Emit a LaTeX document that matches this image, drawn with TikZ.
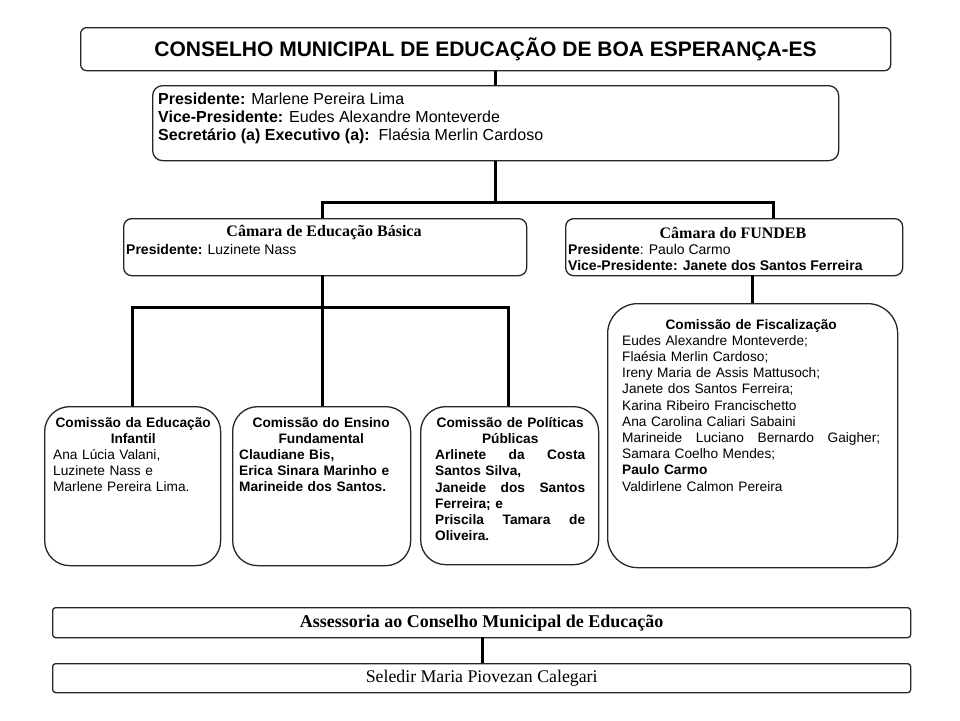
\documentclass[tikz,border=0pt]{standalone}
\usepackage{fontspec}
\setmainfont{Liberation Serif}
\setsansfont{Liberation Sans}
\newcommand\jline[1]{\par\noindent\hbox to\hsize{#1}\par}
\newcommand\pline[1]{\par\noindent #1\par}
\begin{document}
\begin{tikzpicture}[x=1pt,y=-1pt,
  box/.style={draw=black!85, line width=1.3pt, inner sep=0pt, anchor=north west, rounded corners=#1},
  box/.default=8pt,
  conn/.style={line width=3pt},
  sans/.style={font=\sffamily\fontsize{16}{18}\selectfont},
  small/.style={font=\sffamily\fontsize{13.7}{16.2}\selectfont},
  txt/.style={inner sep=0pt, anchor=north west},
  chead/.style={inner sep=0pt, font=\bfseries\fontsize{16}{18}\selectfont}]
\useasboundingbox (0,0) rectangle (960,720);
\fill[white] (0,0) rectangle (960,720);

% top
\node[box=6pt, minimum width=810pt, minimum height=43pt,
      font=\sffamily\bfseries\fontsize{21}{24}\selectfont] (title) at (80,27)
  {CONSELHO MUNICIPAL DE EDUCAÇÃO DE BOA ESPERANÇA-ES};
\node[box=10pt, minimum width=686pt, minimum height=75pt] (off) at (152,85) {};
\node[txt, sans, align=left] (offt) at (158,92.5)
  {\textbf{Presidente:} Marlene Pereira Lima\\
   \textbf{Vice-Presidente:} Eudes Alexandre Monteverde\\
   \textbf{Secretário (a) Executivo (a):}\ \ Flaésia Merlin Cardoso};
\draw[conn] (off.north) -- (off.north |- title.south);

% camaras
\node[box=8pt, minimum width=403pt, minimum height=57pt] (cb) at (123,218) {};
\node[chead] (cbh) at (324,233) {Câmara de Educação Básica};
\node[txt, font=\sffamily\fontsize{14}{16}\selectfont] (cbt) at (126,244.5) {\textbf{Presidente:} Luzinete Nass};

\node[box=8pt, minimum width=337pt, minimum height=57pt] (cf) at (565,218) {};
\node[chead] (cfh) at (733,233) {Câmara do FUNDEB};
\node[txt, font=\sffamily\fontsize{14}{16}\selectfont, align=left] (cft) at (568,244.5)
  {\textbf{Presidente}: Paulo Carmo\\ \textbf{Vice-Presidente: Janete dos Santos Ferreira}};

\coordinate (j1) at (496,202);
\coordinate (cbin) at (322,218);
\coordinate (cfin) at (773,218);
\draw[conn] (off.south) -- (off.south |- j1);
\draw[conn] (cbin) |- (j1) -| (cfin);

% commissions
\node[box=25pt, minimum width=176pt, minimum height=159pt] (ci) at (44,406) {};
\node[box=25pt, minimum width=178pt, minimum height=159pt] (cu) at (232,406) {};
\node[box=25pt, minimum width=178pt, minimum height=158pt] (cp) at (420,406) {};
\node[box=30pt, minimum width=290pt, minimum height=264pt] (cz) at (607,303) {};

\coordinate (cbout) at (322,275);
\coordinate (j2) at (322,307);
\coordinate (ciin) at (132,406);
\coordinate (cuin) at (322,406);
\coordinate (cpin) at (508,406);
\draw[conn] (cbout) -- (cuin);
\draw[conn] (ciin) |- (j2) -| (cpin);

\coordinate (cfout) at (752,275);
\draw[conn] (cfout) -- (cfout |- cz.north);

\node[txt, small, text width=160pt] (cit) at (53,417)
  {{\centering\bfseries Comissão da Educação\\ Infantil\par}
   \raggedright Ana Lúcia Valani,\\ Luzinete Nass e\\ Marlene Pereira Lima.};
\node[txt, small, text width=164pt] (cut) at (239,417)
  {{\centering\bfseries Comissão do Ensino\\ Fundamental\par}
   \raggedright\bfseries Claudiane Bis,\\ Erica Sinara Marinho e\\ Marineide dos Santos.};
\node[txt, small, text width=150pt] (cpt) at (435,417)
  {{\centering\bfseries Comissão de Políticas\\ Públicas\par}
   \bfseries
   \jline{Arlinete\hfill da\hfill Costa}\pline{Santos Silva,}%
   \jline{Janeide\hfill dos\hfill Santos}\pline{Ferreira; e}%
   \jline{Priscila\hfill Tamara\hfill de}\pline{Oliveira.}};
\node[txt, small, text width=258pt] (czt) at (622,319)
  {{\centering\bfseries Comissão de Fiscalização\par}
   \raggedright Eudes Alexandre Monteverde;\\ Flaésia Merlin Cardoso;\\
   Ireny Maria de Assis Mattusoch;\\ Janete dos Santos Ferreira;\\
   Karina Ribeiro Francischetto\\ Ana Carolina Caliari Sabaini\par
   \jline{Marineide\hfill Luciano\hfill Bernardo\hfill Gaigher;}%
   \pline{Samara Coelho Mendes;}\pline{\textbf{Paulo Carmo}}\pline{Valdirlene Calmon Pereira}};

% assessoria
\node[box=3pt, minimum width=858pt, minimum height=30pt,
      font=\bfseries\fontsize{18}{20}\selectfont] (as) at (52,607)
  {Assessoria ao Conselho Municipal de Educação};
\node[box=3pt, minimum width=858pt, minimum height=29pt,
      font=\fontsize{17.8}{20}\selectfont] (se) at (52,663)
  {Seledir Maria Piovezan Calegari};
\coordinate (asout) at (482,637);
\draw[conn] (asout) -- (asout |- se.north);
\end{tikzpicture}
\end{document}
